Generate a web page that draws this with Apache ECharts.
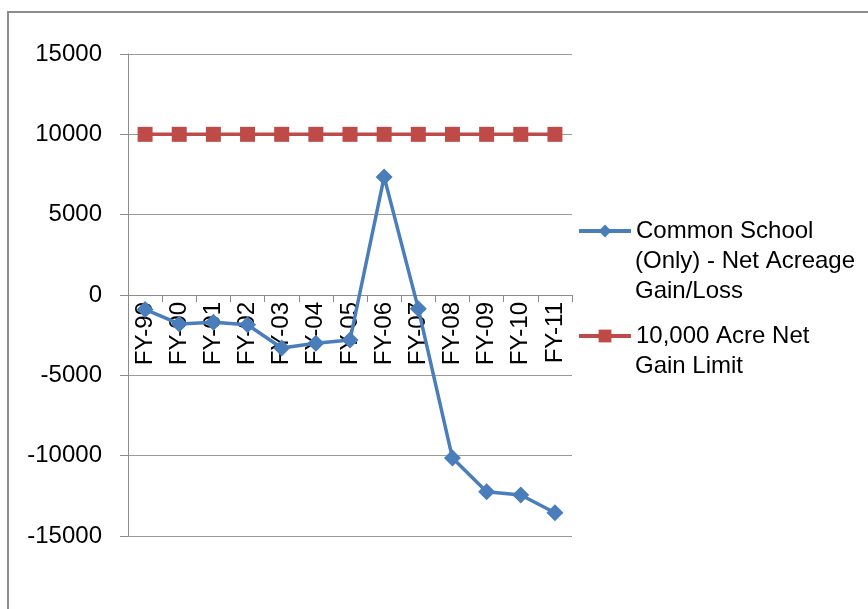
<!DOCTYPE html>
<html>
<head>
<meta charset="utf-8">
<script src="https://cdn.jsdelivr.net/npm/echarts@6/dist/echarts.min.js"></script>
<style>
  html, body { margin: 0; padding: 0; background: #fff; }
  #chart { width: 868px; height: 609px; }
</style>
</head>
<body>
<div id="chart"></div>
<script>
// 数据
const categories = ['FY-99', 'FY-00', 'FY-01', 'FY-02', 'FY-03', 'FY-04', 'FY-05',
  'FY-06', 'FY-07', 'FY-08', 'FY-09', 'FY-10', 'FY-11'];
const netAcreage = [-900, -1800, -1700, -1850, -3300, -3000, -2800,
  7350, -850, -10150, -12250, -12450, -13550];
const gainLimit = [10000, 10000, 10000, 10000, 10000, 10000, 10000,
  10000, 10000, 10000, 10000, 10000, 10000];
const seriesNames = ['Common School (Only) - Net Acreage Gain/Loss', '10,000 Acre Net Gain Limit'];
// legend first line, rest goes in graphic text
const legendFirst = ['Common School', '10,000 Acre Net'];
const legendRest = ['(Only) - Net Acreage\nGain/Loss', 'Gain Limit'];
const yMin = -15000;
const yMax = 15000;

const FONT = 'Liberation Sans';
const blue = '#4a7ebb';
const red = '#be4b48';

const gridTop = 54;
const gridBottom = 73;
const gridHeight = 609 - gridTop - gridBottom;
// onZero 在这里不生效，手动把类目轴挪到 0 的位置
const zeroOffset = -gridHeight * (0 - yMin) / (yMax - yMin);

const myChart = echarts.init(document.getElementById('chart'));

const legendBase = {
  orient: 'vertical',
  left: 577,
  padding: 0,
  itemWidth: 52,
  itemHeight: 16,
  textStyle: { fontFamily: FONT, fontSize: 24, color: '#000', lineHeight: 30 },
  formatter: name => legendFirst[seriesNames.indexOf(name)],
};

myChart.setOption({
  animation: false,
  grid: { left: 128, top: gridTop, right: 296, bottom: gridBottom, containLabel: false },
  legend: [
    { ...legendBase, top: 216, data: [{ name: seriesNames[0], lineStyle: { width: 4 } }] },
    { ...legendBase, top: 321, data: [{ name: seriesNames[1], lineStyle: { width: 4 } }] },
  ],
  graphic: [
    {
      type: 'rect',
      shape: { x: 8, y: 12, width: 1000, height: 1000 },
      style: { fill: 'none', stroke: '#8c8c8c', lineWidth: 2 },
      silent: true,
    },
    {
      type: 'text',
      left: 635,
      top: 246,
      style: { text: legendRest[0], font: `24px "${FONT}"`, fill: '#000', lineHeight: 30 },
    },
    {
      type: 'text',
      left: 635,
      top: 351,
      style: { text: legendRest[1], font: `24px "${FONT}"`, fill: '#000', lineHeight: 30 },
    },
  ],
  xAxis: {
    type: 'category',
    data: categories,
    boundaryGap: true,
    offset: zeroOffset,
    axisLine: { onZero: false, lineStyle: { color: '#8c8c8c', width: 1 } },
    axisTick: { show: true, length: 7, lineStyle: { color: '#8c8c8c' } },
    axisLabel: {
      rotate: 90,
      margin: 7,
      interval: 0,
      fontFamily: FONT,
      fontSize: 24,
      color: '#000',
    },
  },
  yAxis: {
    type: 'value',
    min: yMin,
    max: yMax,
    interval: 5000,
    axisLine: { show: true, lineStyle: { color: '#8c8c8c', width: 1 } },
    axisTick: { show: true, length: 8, lineStyle: { color: '#8c8c8c' } },
    axisLabel: {
      margin: 26,
      fontFamily: FONT,
      fontSize: 24,
      color: '#000',
      formatter: v => String(v),
    },
    splitLine: { lineStyle: { color: '#9a9a9a', width: 1 } },
  },
  series: [
    {
      name: seriesNames[0],
      type: 'line',
      data: netAcreage,
      symbol: 'diamond',
      symbolSize: 17,
      itemStyle: { color: blue },
      lineStyle: { color: blue, width: 3.5 },
      z: 3,
    },
    {
      name: seriesNames[1],
      type: 'line',
      data: gainLimit,
      symbol: 'rect',
      symbolSize: 15,
      itemStyle: { color: red },
      lineStyle: { color: red, width: 3.5 },
    },
  ],
});
</script>
</body>
</html>
